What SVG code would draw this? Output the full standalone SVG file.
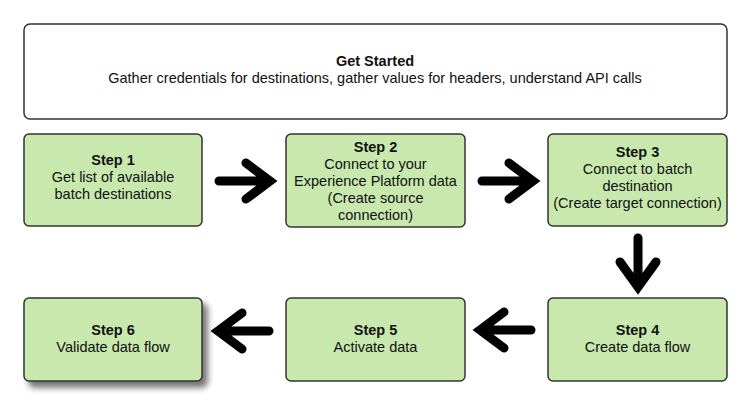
<svg xmlns="http://www.w3.org/2000/svg" width="750" height="404" viewBox="0 0 750 404">
<style>
.box{fill:#c8e8ad;stroke:#333;stroke-width:1.5}
.top{fill:#fff;stroke:#333;stroke-width:1.5}
text{font-family:"Liberation Sans",Arial,sans-serif;font-size:14.5px;fill:#111;text-anchor:middle}
.b{font-weight:bold}
.arr{fill:none;stroke:#000;stroke-width:9;stroke-linecap:round;stroke-linejoin:miter}
</style>
<defs>
<filter id="sh" x="-20%" y="-20%" width="150%" height="160%">
<feDropShadow dx="5" dy="6" stdDeviation="3" flood-color="#000" flood-opacity="0.55"/>
</filter>
</defs>
<g id="start">
<rect class="top" x="24" y="24" width="703" height="95" rx="6"/>
<text class="b" x="375" y="66">Get Started</text>
<text x="375" y="83">Gather credentials for destinations, gather values for headers, understand API calls</text>
</g>
<g id="step1">
<rect class="box" x="24" y="134" width="178" height="92" rx="5"/>
<text class="b" x="113" y="165">Step 1</text>
<text x="113" y="182">Get list of available</text>
<text x="113" y="199">batch destinations</text>
</g>
<g id="step2">
<rect class="box" x="286" y="134" width="179" height="93" rx="5"/>
<text class="b" x="375.5" y="152">Step 2</text>
<text x="375.5" y="169">Connect to your</text>
<text x="375.5" y="186">Experience Platform data</text>
<text x="375.5" y="203">(Create source</text>
<text x="375.5" y="220">connection)</text>
</g>
<g id="step3">
<rect class="box" x="548" y="134" width="179" height="92" rx="5"/>
<text class="b" x="637.5" y="157">Step 3</text>
<text x="637.5" y="174">Connect to batch</text>
<text x="637.5" y="191">destination</text>
<text x="637.5" y="208">(Create target connection)</text>
</g>
<g id="step4">
<rect class="box" x="548" y="298" width="179" height="83" rx="5"/>
<text class="b" x="637.5" y="335">Step 4</text>
<text x="637.5" y="352">Create data flow</text>
</g>
<g id="step5">
<rect class="box" x="286" y="298" width="179" height="83" rx="5"/>
<text class="b" x="375.5" y="335">Step 5</text>
<text x="375.5" y="352">Activate data</text>
</g>
<g id="step6">
<rect class="box" x="24" y="298" width="178" height="83" rx="5" filter="url(#sh)"/>
<text class="b" x="113" y="335">Step 6</text>
<text x="113" y="352">Validate data flow</text>
</g>
<g id="connectors">
<path class="arr" d="M219 181 H268 M246 163 L270 181 L246 199"/>
<path class="arr" d="M482 181 H531 M509 163 L533 181 L509 199"/>
<path class="arr" d="M638 238 V286 M620 262 L638 287 L656 262"/>
<path class="arr" d="M531 330 H482 M504 312 L480 330 L504 348"/>
<path class="arr" d="M269 331 H220 M242 313 L218 331 L242 349"/>
</g>
</svg>
